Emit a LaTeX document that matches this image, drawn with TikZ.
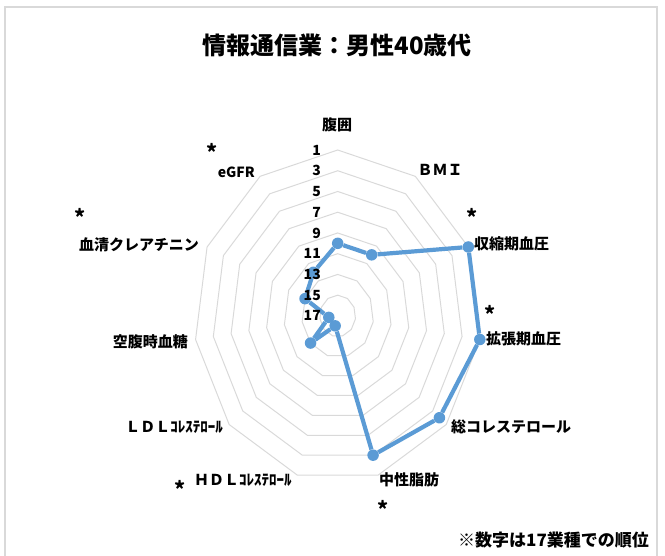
\documentclass[tikz,border=0pt]{standalone}
\usepackage{fontspec}
\setmainfont{Noto Sans CJK JP}
\usepackage{tikz}
\definecolor{serblue}{HTML}{5B9BD5}
\definecolor{gridgray}{HTML}{D9D9D9}
\tikzset{
    RG/.style ={draw=gridgray, line width=1pt},
    FR/.style ={draw=gridgray, line width=1.3pt},
    PT/.style ={circle, inner sep=0pt, minimum size=11.5pt, fill=serblue},
    SR/.style ={draw=serblue, line width=4.2pt, line join=round},
    LB/.style ={inner sep=0pt, font=\fontsize{15}{18}\selectfont\bfseries},
    NB/.style ={anchor=east, inner sep=0pt, font=\fontsize{14}{16}\selectfont\bfseries},
    AS/.style ={inner sep=0pt, anchor=north, font=\fontsize{21}{23}\selectfont\bfseries}}

\begin{document}
\begin{tikzpicture}[x=1pt, y=-1pt]
    \useasboundingbox (0,0) rectangle (665,556);
    \begin{scope}
        \clip (0,0) rectangle (665,556);
        \draw[FR] (5,7) rectangle (657,580);
    \end{scope}
    \node[LB, font=\fontsize{24}{28}\selectfont\bfseries] (T) at (337,45) {情報通信業：男性40歳代};
    % rings and ranks
    \begin{scope}[shift={(337.7,315.9)}, xscale=143.6/16, yscale=165.9/16]
        \foreach \v in {1,3,...,15}
            \draw[RG] (-90:17-\v) \foreach \k in {1,...,10}{ -- ({\k*360/11-90}:{17-\v}) } -- cycle;
        \node[PT] (p0) at (-90:7) {};
        \node[PT] (p1) at ({1*360/11-90}:7) {};
        \node[PT] (p2) at ({2*360/11-90}:16) {};
        \node[PT] (p3) at ({3*360/11-90}:16) {};
        \node[PT] (p4) at ({4*360/11-90}:15) {};
        \node[PT] (p5) at ({5*360/11-90}:14) {};
        \node[PT] (p6) at ({6*360/11-90}:1) {};
        \node[PT] (p7) at ({7*360/11-90}:4) {};
        \node[PT] (p8) at ({8*360/11-90}:1) {};
        \node[PT] (p9) at ({9*360/11-90}:4) {};
        \node[PT] (p10) at ({10*360/11-90}:5) {};
    \end{scope}
    \draw[SR] (p0) -- (p1) -- (p2) -- (p3) -- (p4) -- (p5) -- (p6) -- (p7) -- (p8) -- (p9) -- (p10) -- (p0);
    \foreach \v in {1,3,...,17}
        \node[NB] (n\v) at (321,{315.9-165.9*(17-\v)/16}) {\v};
    % axis labels
    \node[LB] (a0) at (337,125) {腹囲};
    \node[LB] (a1) at (440,170) {ＢＭＩ};
    \node[AS] (s2) at (472,208.5) {*};
    \node[LB, anchor=west] (a2) at (474,244) {収縮期血圧};
    \node[AS] (s3) at (490,305.5) {*};
    \node[LB, anchor=west] (a3) at (486,339) {拡張期血圧};
    \node[LB, anchor=west] (a4) at (451,427) {総コレステロール};
    \node[LB, anchor=west] (a5) at (379,480) {中性脂肪};
    \node[AS] (s5) at (383,500.5) {*};
    \node[LB, anchor=west] (a6) at (194,480) {ＨＤＬｺﾚｽﾃﾛｰﾙ};
    \node[AS] (s6) at (180,480.5) {*};
    \node[LB, anchor=east] (a7) at (223,427) {ＬＤＬｺﾚｽﾃﾛｰﾙ};
    \node[LB, anchor=east] (a8) at (188,342) {空腹時血糖};
    \node[LB, anchor=east] (a9) at (199,245) {血清クレアチニン};
    \node[AS] (s9) at (80,208.5) {*};
    \node[LB, anchor=east, font=\fontsize{14}{16}\selectfont\bfseries] (a10) at (255,172) {eGFR};
    \node[AS] (s10) at (212,143.5) {*};
    \node[LB, anchor=west, font=\fontsize{17}{20}\selectfont\bfseries] (F) at (458,540) {※数字は17業種での順位};
\end{tikzpicture}
\end{document}
